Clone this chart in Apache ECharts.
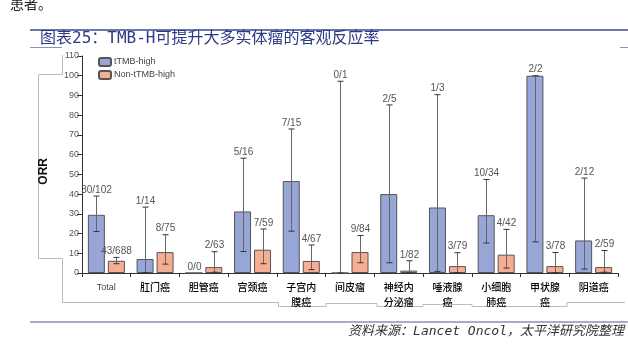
<!DOCTYPE html>
<html><head><meta charset="utf-8">
<script src="https://cdn.jsdelivr.net/npm/echarts@6/dist/echarts.min.js"></script>
<style>html,body{margin:0;padding:0;background:#fff}#c{width:628px;height:344px}</style>
</head><body><div id="c"></div>
<script>
const categories = ['Total','肛门癌','胆管癌','宫颈癌','子宫内\n膜癌','间皮瘤','神经内\n分泌瘤','唾液腺\n癌','小细胞\n肺癌','甲状腺\n癌','阴道癌'];
const yTicks = [0,10,20,30,40,50,60,70,80,90,100,110];
const highORR = [29.5, 7.1, 0, 31.2, 46.6, 0, 40.0, 33.2, 29.3, 100, 16.5];
const highLow = [21.0, 0.2, null, 10.9, 21.2, 0, 5.2, 0.8, 15.2, 15.8, 2.0];
const highHigh = [39.0, 33.4, null, 58.2, 73.0, 97.2, 85.2, 90.4, 47.4, 100, 48.1];
const highLabels = ['30/102','1/14','0/0','5/16','7/15','0/1','2/5','1/3','10/34','2/2','2/12'];
const nonORR = [6.2, 10.6, 3.0, 11.8, 6.1, 10.6, 1.2, 3.5, 9.3, 3.5, 3.0];
const nonLow = [4.7, 4.5, 0.4, 4.7, 1.7, 5.2, 0, 0.2, 2.5, 0.2, 0.4];
const nonHigh = [7.9, 19.4, 10.8, 22.3, 14.2, 19.0, 6.2, 10.3, 22.1, 10.4, 11.4];
const nonLabels = ['43/688','8/75','2/63','7/59','4/67','9/84','1/82','3/79','4/42','3/78','2/59'];

const BAR_W = 17, GAP = 3;
function errSeries(name, lows, highs, labels, sign) {
  return {
    type: 'custom', name: name, z: 10, silent: true,
    data: categories.map((c, i) => [i, lows[i] == null ? 0 : lows[i], highs[i] == null ? 0 : highs[i]]),
    renderItem: function (params, api) {
      const i = params.dataIndex;
      const off = sign * (BAR_W + GAP) / 2;
      const x = Math.round(api.coord([api.value(0), 0])[0] + off) + 0.5;
      const children = [];
      let topY;
      if (lows[i] != null && highs[i] != null) {
        const y1 = api.coord([api.value(0), lows[i]])[1];
        const y2 = api.coord([api.value(0), highs[i]])[1];
        topY = y2;
        const st = {stroke: '#333', lineWidth: 1};
        children.push({type: 'line', shape: {x1: x, y1: y1, x2: x, y2: y2}, style: {stroke: '#666', lineWidth: 1}});
        children.push({type: 'line', shape: {x1: x - 3, y1: y1, x2: x + 3, y2: y1}, style: st});
        children.push({type: 'line', shape: {x1: x - 3, y1: y2, x2: x + 3, y2: y2}, style: st});
      } else {
        topY = api.coord([api.value(0), 0])[1];
      }
      children.push({type: 'text', style: {text: labels[i], x: x, y: topY - 1, textAlign: 'center', textVerticalAlign: 'bottom',
        fill: '#555', fontSize: 10, fontFamily: 'Liberation Sans, Arial, sans-serif'}});
      return {type: 'group', children: children};
    }
  };
}

const chart = echarts.init(document.getElementById('c'), null, {renderer: 'canvas'});
chart.setOption({
  animation: false,
  backgroundColor: '#fff',
  textStyle: {fontFamily: 'Liberation Sans, Noto Sans CJK SC, sans-serif'},
  legend: {
    left: 93, top: 52, orient: 'vertical', itemWidth: 12, itemHeight: 8, itemGap: 3,
    textStyle: {fontSize: 9, color: '#444', padding: [0, 0, 0, -2]},
    data: ['tTMB-high', 'Non-tTMB-high']
  },
  grid: {left: 82, right: 10, top: 56, bottom: 71, containLabel: false},
  xAxis: {
    type: 'category', data: categories,
    axisLine: {lineStyle: {color: '#333', width: 1}},
    axisTick: {show: true, length: 4, lineStyle: {color: '#333'}},
    axisLabel: {fontSize: 10, color: '#000', margin: 7, lineHeight: 15, interval: 0, fontWeight: 500,
      fontFamily: 'Noto Sans CJK SC, sans-serif',
      formatter: function (v) { return v === 'Total' ? '{t|Total}' : v; },
      rich: {t: {fontSize: 9, color: '#444', fontWeight: 'normal', fontFamily: 'Liberation Sans, sans-serif'}}}
  },
  yAxis: {
    type: 'value', min: 0, max: 110, interval: 10,
    axisLine: {show: true, lineStyle: {color: '#333'}},
    axisTick: {show: true, length: 5, lineStyle: {color: '#333'}},
    splitLine: {show: false},
    axisLabel: {fontSize: 9, color: '#555', margin: 3,
      formatter: function (v) { return yTicks.indexOf(v) >= 0 ? String(v) : ''; }}
  },
  series: [
    {name: 'tTMB-high', type: 'bar', data: highORR, barWidth: BAR_W, barGap: (GAP / BAR_W * 100) + '%',
      itemStyle: {color: '#97a6d7', borderColor: '#555', borderWidth: 1}},
    {name: 'Non-tTMB-high', type: 'bar', data: nonORR, barWidth: BAR_W,
      itemStyle: {color: '#f6ae92', borderColor: '#555', borderWidth: 1}},
    errSeries('errHigh', highLow, highHigh, highLabels, -1),
    errSeries('errNon', nonLow, nonHigh, nonLabels, 1)
  ],
  graphic: [
    {type: 'text', left: 10, top: -3, style: {text: '患者。', fontSize: 14, fill: '#222', fontFamily: 'Noto Sans CJK SC'}},
    {type: 'line', shape: {x1: 30, y1: 30, x2: 628, y2: 30}, style: {stroke: '#6f74ad', lineWidth: 2}},
    {type: 'text', left: 40, top: 31, style: {text: '图表25：TMB-H可提升大多实体瘤的客观反应率', fontSize: 16, fill: '#2d3a86', fontFamily: 'DejaVu Sans Mono, Noto Sans CJK SC'}},
    {type: 'line', shape: {x1: 30, y1: 47.5, x2: 62, y2: 47.5}, style: {stroke: '#8c90c0', lineWidth: 1}},
    {type: 'line', shape: {x1: 620, y1: 47.5, x2: 628, y2: 47.5}, style: {stroke: '#8c90c0', lineWidth: 1}},
    {type: 'polyline', shape: {points: [[62.5,55],[62.5,74.5],[38.5,74.5],[38.5,258.5],[62.5,258.5],[62.5,302.5],[278.5,302.5],[278.5,306.5],[326,306.5],[326,303.5],[377,303.5],[377,306.5],[423,306.5],[423,304.5],[472,304.5],[472,306.5],[567,306.5],[567,302.5],[625,302.5]]},
      style: {stroke: '#bbb', lineWidth: 1, fill: null}},
    {type: 'text', left: 38, top: 158, rotation: Math.PI / 2, style: {text: 'ORR', fontSize: 12, fontWeight: 'bold', fill: '#111', fontFamily: 'Liberation Sans'}},
    {type: 'line', shape: {x1: 30, y1: 322, x2: 628, y2: 322}, style: {stroke: '#8a8fc0', lineWidth: 1.5}},
    {type: 'text', right: 4, top: 325, style: {text: '资料来源：Lancet Oncol，太平洋研究院整理', fontSize: 13, fontStyle: 'italic', fill: '#333', fontFamily: 'DejaVu Sans Mono, Noto Sans CJK SC'}}
  ]
});
</script></body></html>
